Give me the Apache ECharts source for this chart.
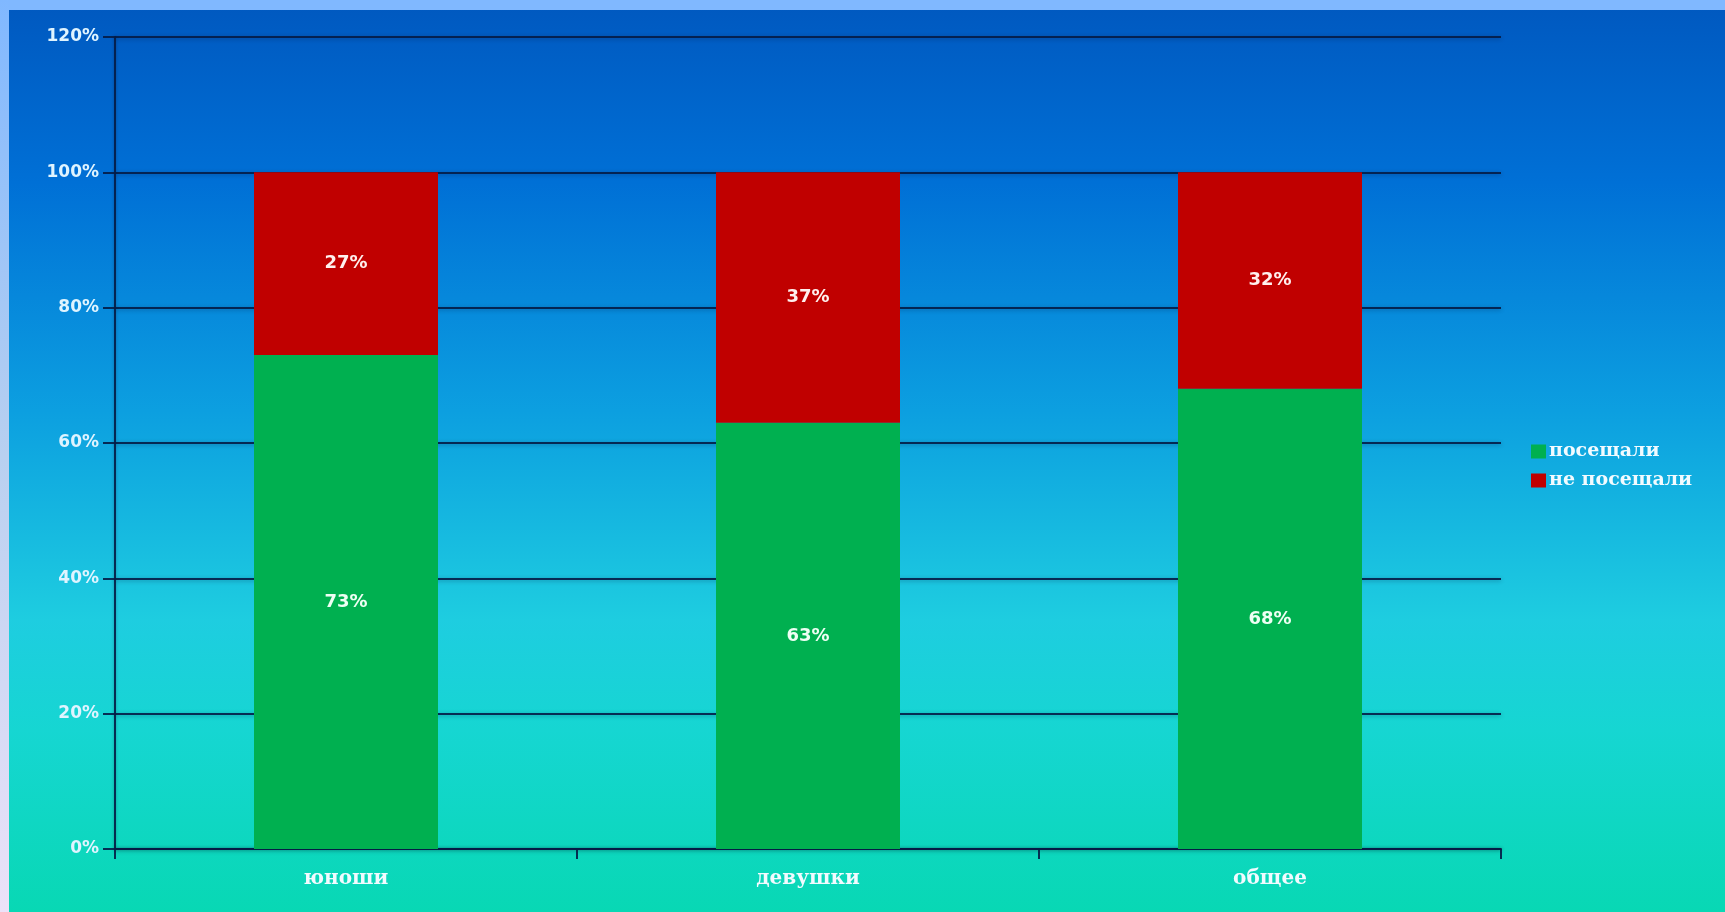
<!DOCTYPE html>
<html>
<head>
<meta charset="utf-8">
<script src="https://cdn.jsdelivr.net/npm/echarts@6/dist/echarts.min.js"></script>
<style>
html,body{margin:0;padding:0;width:1725px;height:912px;overflow:hidden;background:#80b8ff;}
#chart{width:1725px;height:912px;}
</style>
</head>
<body>
<div id="chart"></div>
<script>
const categories = ['юноши', 'девушки', 'общее'];
const visited = [73, 63, 68];
const notVisited = [27, 37, 32];
const seriesNames = ['посещали', 'не посещали'];
const yMax = 120;
const yInterval = 20;

const chart = echarts.init(document.getElementById('chart'));
const lineColor = 'rgba(4,28,70,0.9)';
const labelFont = '"DejaVu Sans", sans-serif';
const textFont = '"DejaVu Serif", serif';

chart.setOption({
  backgroundColor: {
    type: 'linear', x: 0, y: 0, x2: 0, y2: 1,
    colorStops: [
      {offset: 0.0, color: '#0058bf'},
      {offset: 0.2, color: '#0070d6'},
      {offset: 0.45, color: '#0c9fe0'},
      {offset: 0.68, color: '#1ecde0'},
      {offset: 0.8, color: '#16d6d2'},
      {offset: 1.0, color: '#08d8b4'}
    ]
  },
  animation: false,
  graphic: [
    {type: 'rect', left: 0, top: 0, z: 100, shape: {width: 1725, height: 10}, style: {fill: '#80b8ff'}},
    {type: 'rect', left: 0, top: 0, z: 100, shape: {width: 9, height: 912},
      style: {fill: {type: 'linear', x: 0, y: 0, x2: 0, y2: 1, colorStops: [
        {offset: 0, color: '#80b8ff'}, {offset: 0.5, color: '#b8d0f0'}, {offset: 1, color: '#ece2f8'}]}}}
  ],
  grid: {left: 115, right: 224, top: 37, bottom: 63},
  legend: {
    orient: 'vertical',
    left: 1526, top: 437,
    itemWidth: 15, itemHeight: 14, itemGap: 10,
    icon: 'rect',
    data: seriesNames,
    textStyle: {color: '#f2fbff', fontFamily: textFont, fontWeight: 'bold', fontSize: 19, padding: [0,0,0,-2]}
  },
  xAxis: {
    type: 'category',
    data: categories,
    axisLine: {lineStyle: {color: lineColor, width: 2, shadowColor: 'rgba(0,0,0,0.3)', shadowBlur: 3}},
    axisTick: {show: true, length: 10, lineStyle: {color: lineColor, width: 2}},
    axisLabel: {color: '#f2fbff', fontFamily: textFont, fontWeight: 'bold', fontSize: 20, margin: 20}
  },
  yAxis: {
    type: 'value',
    min: 0, max: yMax, interval: yInterval,
    axisLine: {show: true, lineStyle: {color: lineColor, width: 2, shadowColor: 'rgba(0,0,0,0.3)', shadowBlur: 3}},
    axisTick: {show: true, length: 12, lineStyle: {color: lineColor, width: 2}},
    splitLine: {lineStyle: {color: lineColor, width: 2, shadowColor: 'rgba(0,0,40,0.35)', shadowBlur: 4, shadowOffsetY: 1}},
    axisLabel: {color: '#dff4ff', fontFamily: labelFont, fontWeight: 'bold', fontSize: 17, margin: 16, formatter: '{value}%'}
  },
  series: [
    {
      name: seriesNames[0], type: 'bar', stack: 'total', data: visited,
      barWidth: 184,
      itemStyle: {color: '#00b050'},
      label: {show: true, position: 'inside', formatter: '{c}%', color: '#eefff4',
        fontFamily: labelFont, fontWeight: 'bold', fontSize: 18}
    },
    {
      name: seriesNames[1], type: 'bar', stack: 'total', data: notVisited,
      barWidth: 184,
      itemStyle: {color: '#c00000'},
      label: {show: true, position: 'inside', formatter: '{c}%', color: '#fff0ee',
        fontFamily: labelFont, fontWeight: 'bold', fontSize: 18}
    }
  ]
});
</script>
</body>
</html>
